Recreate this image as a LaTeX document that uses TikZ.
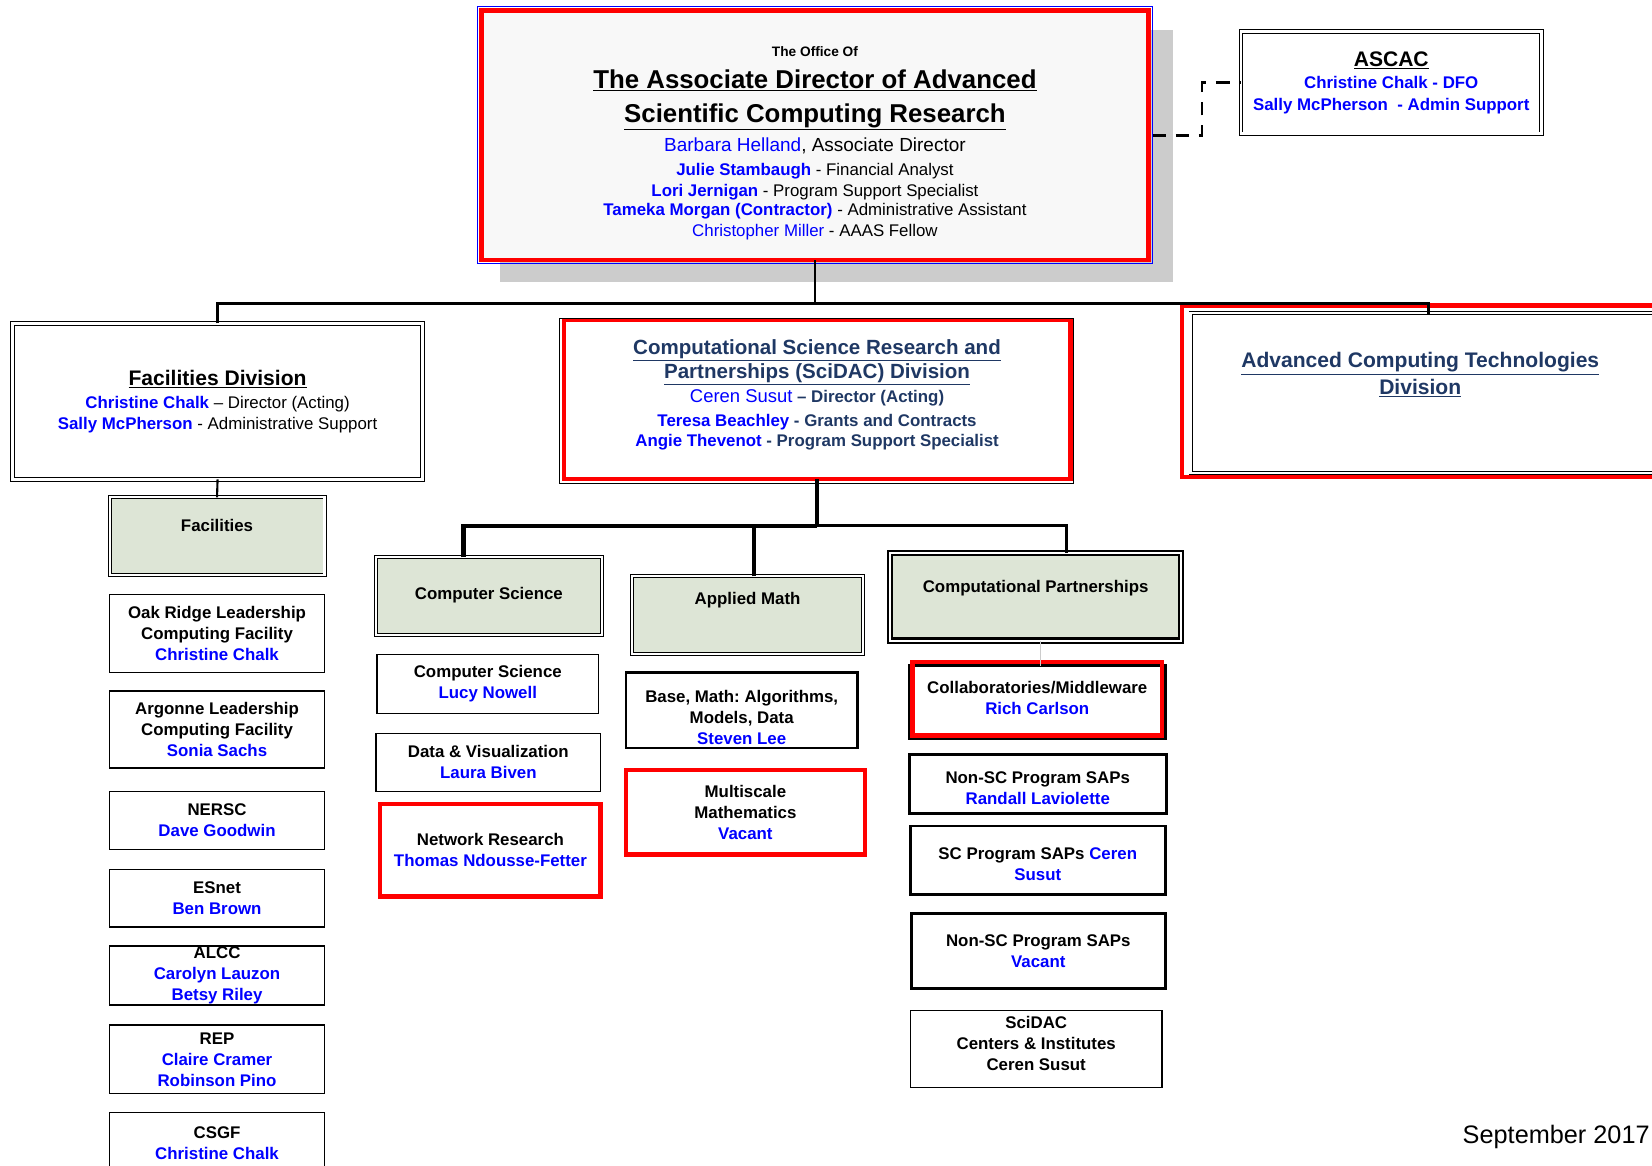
\documentclass[tikz,border=0pt]{standalone}
\usepackage{fontspec}
\setmainfont{Liberation Sans}
\definecolor{nameblue}{RGB}{0,0,255}
\definecolor{navy}{RGB}{31,56,100}
\definecolor{sage}{RGB}{221,229,214}
\definecolor{shadowgray}{RGB}{204,204,204}
\definecolor{paper}{RGB}{248,248,248}
\newcommand{\who}[1]{\textcolor{nameblue}{#1}}

\begin{document}
\begin{tikzpicture}[x=1pt, y=-1pt]
    \tikzstyle{unit}=[draw, line width=1.3pt, fill=white, inner sep=0pt, outer sep=0pt, align=center, font=\fontsize{16}{20}\selectfont\bfseries]
    \tikzstyle{header}=[draw, fill=sage, double=white, double distance=2pt, line width=0.9pt, inner sep=0pt, outer sep=0pt]
    \tikzstyle{division}=[draw, fill=white, double=white, double distance=2.5pt, line width=0.9pt, inner sep=0pt, outer sep=0pt, align=center]
    \tikzstyle{flagged}=[draw=red, line width=4pt, fill=white, inner sep=0pt, outer sep=0pt]
    \tikzstyle{boxtext}=[align=center, inner sep=0pt, font=\fontsize{16}{20}\selectfont\bfseries]
    \tikzstyle{link}=[line width=2.5pt]

    \useasboundingbox (0,0) rectangle (1568,1106);
    \clip (0,0) rectangle (1568,1106);

    % office of the associate director
    \fill[shadowgray] (475,28) rectangle (1113,268);
    \node[flagged, fill=paper, minimum width=633pt, minimum height=237pt] (ADO) at (773.5,128.5) {};
    \draw[nameblue, line width=1pt] ([shift={(-4pt,4pt)}]ADO.north west) rectangle ([shift={(4pt,-3pt)}]ADO.south east);
    \node[align=center, inner sep=0pt, font=\fontsize{16}{19}\selectfont] (ADO_t) at ([yshift=-7.5pt]ADO.center) {%
        {\fontsize{13}{15}\selectfont\bfseries The Office Of}\\[12pt]
        {\fontsize{24.5}{28}\selectfont\bfseries\underline{The Associate Director of Advanced}}\\[11pt]
        {\fontsize{24.5}{28}\selectfont\bfseries\underline{Scientific Computing Research}}\\[6pt]
        {\fontsize{18}{20}\selectfont\who{Barbara Helland}, Associate Director}\\[4pt]
        \who{\textbf{Julie Stambaugh}} - Financial Analyst\\[1pt]
        \who{\textbf{Lori Jernigan}} - Program Support Specialist\\[-1pt]
        \who{\textbf{Tameka Morgan (Contractor)}} - Administrative Assistant\\[1pt]
        \who{Christopher Miller} - AAAS Fellow};

    % advisory committee
    \node[division, minimum width=285pt, minimum height=97pt, font=\fontsize{16}{21}\selectfont\bfseries] (ASCAC) at (1320.5,78.5) {%
        {\fontsize{20}{21}\selectfont\underline{ASCAC}}\\
        \who{Christine Chalk - DFO}\\
        \who{Sally McPherson\ \ - Admin Support}};
    \draw[link, dash pattern=on 13pt off 9pt] ([xshift=4pt]ADO.east) -- ++(47,0) |- (ASCAC.west);

    % divisions
    \node[division, minimum width=389pt, minimum height=148pt, font=\fontsize{16}{20}\selectfont] (FD) at (206.5,381) {%
        {\fontsize{20}{20}\selectfont\bfseries\underline{Facilities Division}}\\[2pt]
        \who{\textbf{Christine Chalk}} -- Director (Acting)\\
        \who{\textbf{Sally McPherson}} - Administrative Support};

    \node[flagged, minimum width=481pt, minimum height=151pt] (SD) at (775.5,379.5) {};
    \draw[line width=1pt] ([shift={(-4pt,2pt)}]SD.north west) rectangle ([shift={(3pt,-4pt)}]SD.south east);
    \node[boxtext, text=navy, font=\fontsize{16}{20}\selectfont\bfseries] (SD_t) at ([yshift=5pt]SD.center) {%
        {\fontsize{19.5}{20}\selectfont\underline{Computational Science Research and}}\\[2pt]
        {\fontsize{19.5}{20}\selectfont\underline{Partnerships (SciDAC) Division}}\\[3pt]
        {\fontsize{17.5}{20}\selectfont\mdseries\who{Ceren Susut}} -- Director (Acting)\\[2pt]
        \who{Teresa Beachley} - Grants and Contracts\\[-1pt]
        \who{Angie Thevenot} - Program Support Specialist};

    \node[flagged, minimum width=468pt, minimum height=163pt] (ACT) at (1356,371.5) {};
    \draw[double=white, double distance=2pt, line width=0.9pt] ([shift={(8pt,-7pt)}]ACT.north west) rectangle ([shift={(10pt,4pt)}]ACT.south east);
    \node[boxtext, text=navy, font=\fontsize{20}{25}\selectfont\bfseries] (ACT_t) at ([shift={(-8pt,16pt)}]ACT.center) {%
        \underline{Advanced Computing Technologies}\\
        \underline{Division}};

    \draw[link] (ADO.south) -- (ADO.south |- 0,288);
    \draw[link] (FD.north) |- (ACT.north |- 0,288) -- ([yshift=-8pt]ACT.north);

    % facilities
    \node[header, minimum width=204pt, minimum height=74pt] (FAC) at (206,509) {};
    \node[boxtext] (FAC_t) at ([yshift=10pt]FAC.center) {Facilities};
    \draw[line width=2pt] (FD.south) -- (FAC.north);

    \node[unit, minimum width=204pt, minimum height=74pt] (Fac_1) at (206,601) {Oak Ridge Leadership\\Computing Facility\\\who{Christine Chalk}};
    \node[unit, minimum width=204pt, minimum height=73pt] (Fac_2) at (206,692.5) {Argonne Leadership\\Computing Facility\\\who{Sonia Sachs}};
    \node[unit, minimum width=204pt, minimum height=55pt] (Fac_3) at (206,778.5) {NERSC\\\who{Dave Goodwin}};
    \node[unit, minimum width=204pt, minimum height=55pt] (Fac_4) at (206,852.5) {ESnet\\\who{Ben Brown}};
    \node[unit, minimum width=204pt, minimum height=56pt] (Fac_5) at (206,926) {ALCC\\\who{Carolyn Lauzon}\\\who{Betsy Riley}};
    \node[unit, minimum width=204pt, minimum height=65pt] (Fac_6) at (206,1005.5) {REP\\\who{Claire Cramer}\\\who{Robinson Pino}};
    \node[unit, minimum width=204pt, minimum height=58pt] (Fac_7) at (206,1085) {CSGF\\\who{Christine Chalk}};

    % research teams under SciDAC
    \node[header, minimum width=214pt, minimum height=74pt] (CS) at (464,566) {};
    \node[boxtext] (CS_t) at ([yshift=1pt]CS.center) {Computer Science};
    \node[header, minimum width=219pt, minimum height=74pt] (AM) at (709.5,584) {};
    \node[boxtext] (AM_t) at ([yshift=14pt]AM.center) {Applied Math};
    \node[header, line width=2pt, double distance=2pt, minimum width=276pt, minimum height=83pt] (CP) at (983,566.5) {};
    \node[boxtext] (CP_t) at ([yshift=8.5pt]CP.center) {Computational Partnerships};

    \draw[line width=4pt] (SD.south) -- (SD.south |- 0,499);
    \draw[line width=4pt] ([xshift=-24pt]CS.north) |- (775.5,499);
    \draw[line width=3pt] (773.5,499) -- ([xshift=29pt]CP.north |- 0,499) -- ([xshift=29pt]CP.north);
    \draw[line width=4pt] ([xshift=6.5pt]AM.north) -- ([xshift=6.5pt]AM.north |- 0,499);

    \node[unit, minimum width=210pt, minimum height=56pt] (CS_1) at (463,649) {Computer Science\\\who{Lucy Nowell}};
    \node[unit, minimum width=213pt, minimum height=55pt] (CS_2) at (463.5,723.5) {Data \& Visualization\\\who{Laura Biven}};
    \node[unit, flagged, minimum width=209pt, minimum height=88pt] (CS_3) at (465.5,807) {Network Research\\\who{Thomas Ndousse-Fetter}};

    \node[unit, line width=2.5pt, minimum width=220pt, minimum height=72pt] (AM_1) at (704,674) {};
    \node[boxtext] (AM_1t) at ([yshift=-7pt]AM_1.center) {Base, Math:\ Algorithms,\\Models, Data\\\who{Steven Lee}};
    \node[unit, flagged, minimum width=227pt, minimum height=80pt] (AM_2) at (707.5,771) {Multiscale\\Mathematics\\\who{Vacant}};

    \node[unit, line width=3pt, minimum width=243pt, minimum height=69pt] (CP_1) at (984.5,666.5) {};
    \draw[red, line width=4pt] ([shift={(3pt,3pt)}]CP_1.south west) rectangle ([shift={(-3pt,4pt)}]CP_1.north east);
    \node[boxtext] (CP_1t) at ([yshift=4pt]CP_1.center) {Collaboratories/Middleware\\\who{Rich Carlson}};
    \draw[shadowgray, line width=1pt] ([xshift=5pt]CP.south) -- ([xshift=5pt]CP.south |- CP_1.north);
    \node[unit, line width=2.5pt, minimum width=244pt, minimum height=56pt] (CP_2) at (985,744) {};
    \node[boxtext] (CP_2t) at ([yshift=-4pt]CP_2.center) {Non-SC Program SAPs\\\who{Randall Laviolette}};
    \node[unit, line width=2.5pt, minimum width=242pt, minimum height=65pt] (CP_3) at (985,816.5) {};
    \node[boxtext] (CP_3t) at ([yshift=-4pt]CP_3.center) {SC Program SAPs \who{Ceren}\\\who{Susut}};
    \node[unit, line width=3pt, minimum width=241pt, minimum height=71pt] (CP_4) at (985.5,902.5) {Non-SC Program SAPs\\\who{Vacant}};
    \node[unit, minimum width=239pt, minimum height=73pt] (CP_5) at (983.5,995.5) {};
    \node[boxtext] (CP_5t) at ([yshift=5pt]CP_5.center) {SciDAC\\Centers \& Institutes\\Ceren Susut};

    \node[anchor=east, inner sep=0pt, font=\fontsize{24}{28}\selectfont] (date) at (1566,1079) {September 2017};
\end{tikzpicture}
\end{document}
